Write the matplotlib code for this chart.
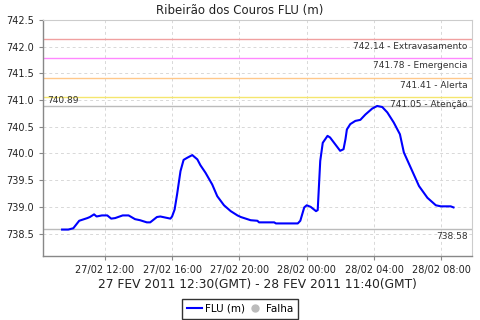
import matplotlib
matplotlib.use("Agg")
import matplotlib.pyplot as plt
import matplotlib.dates as mdates
from matplotlib.lines import Line2D
import pandas as pd

# leituras do nivel (m)
times = [
    "2011-02-27 09:28", "2011-02-27 09:50", "2011-02-27 10:08", "2011-02-27 10:29",
    "2011-02-27 10:58", "2011-02-27 11:07", "2011-02-27 11:22", "2011-02-27 11:31",
    "2011-02-27 11:50", "2011-02-27 12:09", "2011-02-27 12:23", "2011-02-27 12:37",
    "2011-02-27 13:04", "2011-02-27 13:25", "2011-02-27 13:48", "2011-02-27 14:06",
    "2011-02-27 14:30", "2011-02-27 14:42", "2011-02-27 15:06", "2011-02-27 15:18",
    "2011-02-27 15:36", "2011-02-27 15:54", "2011-02-27 16:00", "2011-02-27 16:09",
    "2011-02-27 16:18", "2011-02-27 16:30", "2011-02-27 16:41", "2011-02-27 16:54",
    "2011-02-27 17:12", "2011-02-27 17:30", "2011-02-27 17:41", "2011-02-27 17:59",
    "2011-02-27 18:23", "2011-02-27 18:41", "2011-02-27 19:05", "2011-02-27 19:29",
    "2011-02-27 19:53", "2011-02-27 20:05", "2011-02-27 20:40", "2011-02-27 21:04",
    "2011-02-27 21:10", "2011-02-27 22:04", "2011-02-27 22:10", "2011-02-27 23:28",
    "2011-02-27 23:37", "2011-02-27 23:51", "2011-02-28 00:00", "2011-02-28 00:14",
    "2011-02-28 00:33", "2011-02-28 00:39", "2011-02-28 00:48", "2011-02-28 00:57",
    "2011-02-28 01:14", "2011-02-28 01:23", "2011-02-28 01:59", "2011-02-28 02:11",
    "2011-02-28 02:18", "2011-02-28 02:23", "2011-02-28 02:35", "2011-02-28 02:53",
    "2011-02-28 03:11", "2011-02-28 03:29", "2011-02-28 03:53", "2011-02-28 04:11",
    "2011-02-28 04:29", "2011-02-28 04:47", "2011-02-28 05:10", "2011-02-28 05:32",
    "2011-02-28 05:46", "2011-02-28 06:10", "2011-02-28 06:40", "2011-02-28 07:10",
    "2011-02-28 07:40", "2011-02-28 07:58", "2011-02-28 08:33", "2011-02-28 08:43",
]
levels = [
    738.575, 738.575, 738.60, 738.74,
    738.79, 738.81, 738.86, 738.82,
    738.84, 738.84, 738.78, 738.79,
    738.84, 738.84, 738.77, 738.75,
    738.71, 738.71, 738.81, 738.82,
    738.80, 738.78, 738.82, 738.95,
    739.24, 739.67, 739.88, 739.92,
    739.97, 739.89, 739.78, 739.64,
    739.42, 739.20, 739.03, 738.92,
    738.84, 738.81, 738.75, 738.74,
    738.71, 738.71, 738.69, 738.69,
    738.74, 738.99, 739.03, 739.00,
    738.92, 738.94, 739.86, 740.20,
    740.33, 740.30, 740.05, 740.08,
    740.27, 740.45, 740.55, 740.61,
    740.63, 740.73, 740.84, 740.89,
    740.87, 740.77, 740.58, 740.36,
    740.02, 739.74, 739.39, 739.17,
    739.03, 739.01, 739.01, 738.99,
]

# cotas de referencia
limit_values = [742.14, 741.78, 741.41, 741.05]
limit_names = ["Extravasamento", "Emergencia", "Alerta", "Atenção"]
limit_colors = ["#f0a0a0", "#ff88ff", "#ffc88a", "#f5e66e"]
max_level = 740.89
min_level = 738.58

title = "Ribeirão dos Couros FLU (m)"
period = "27 FEV 2011 12:30(GMT) - 28 FEV 2011 11:40(GMT)"

t = pd.to_datetime(times)

fig = plt.figure(figsize=(4.8, 3.2), dpi=100)
ax = fig.add_axes([0.0896, 0.2, 0.8938, 0.7375])

ax.grid(True, color="#d8d8d8", linestyle=(0, (3, 3)), linewidth=0.7)
ax.set_axisbelow(True)

for v, name, c in zip(limit_values, limit_names, limit_colors):
    ax.axhline(v, color=c, linewidth=1.0)
    ax.annotate("%.2f - %s" % (v, name), xy=(1, v), xycoords=("axes fraction", "data"),
                xytext=(-3, -2), textcoords="offset points", ha="right", va="top",
                fontsize=6.5, color="#333333")

ax.axhline(max_level, color="#bbbbbb", linewidth=1.0)
ax.annotate("%.2f" % max_level, xy=(0, max_level), xycoords=("axes fraction", "data"),
            xytext=(3, 1), textcoords="offset points", ha="left", va="bottom",
            fontsize=6.5, color="#333333")
ax.axhline(min_level, color="#bbbbbb", linewidth=1.0)
ax.annotate("%.2f" % min_level, xy=(1, min_level), xycoords=("axes fraction", "data"),
            xytext=(-3, -2), textcoords="offset points", ha="right", va="top",
            fontsize=6.5, color="#333333")

ax.plot(t, levels, color="#0000ff", linewidth=1.5)

ax.set_ylim(738.08, 742.5)
ax.set_yticks([738.5 + 0.5 * i for i in range(9)])
ax.yaxis.set_major_formatter(plt.FormatStrFormatter("%.1f"))
ax.set_xlim(pd.Timestamp("2011-02-27 08:20"), pd.Timestamp("2011-02-28 09:49"))
ax.set_xticks(pd.to_datetime(["2011-02-27 12:00", "2011-02-27 16:00", "2011-02-27 20:00",
                              "2011-02-28 00:00", "2011-02-28 04:00", "2011-02-28 08:00"]))
ax.xaxis.set_major_formatter(mdates.DateFormatter("%d/%m %H:%M"))
ax.tick_params(labelsize=7, length=3, width=0.8, colors="#888888", labelcolor="#222222")

for s in ["top", "right"]:
    ax.spines[s].set_color("#cccccc")
    ax.spines[s].set_linewidth(0.8)
for s in ["left", "bottom"]:
    ax.spines[s].set_color("#888888")
    ax.spines[s].set_linewidth(1.0)

fig.text(0.5, 0.968, title, fontsize=8.5, color="#222222", ha="center", va="center")
ax.set_xlabel(period, fontsize=8.8, color="#222222", labelpad=2)

handles = [Line2D([], [], color="#0000ff", linewidth=1.5),
           Line2D([], [], color="#bbbbbb", marker="o", linestyle="none", markersize=5)]
leg = fig.legend(handles, ["FLU (m)", "Falha"], loc="lower center", bbox_to_anchor=(0.5, 0.0),
                 ncol=2, fontsize=7.5, frameon=True, fancybox=False, handlelength=1.4,
                 handletextpad=0.3, columnspacing=0.3, borderpad=0.5, borderaxespad=0.1)
leg.get_frame().set_edgecolor("black")
leg.get_frame().set_linewidth(1.0)

fig.savefig("out.png", dpi=100)
